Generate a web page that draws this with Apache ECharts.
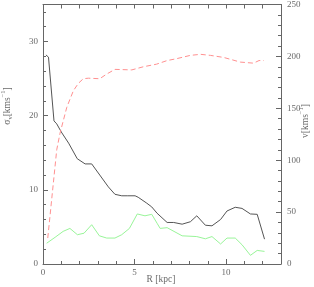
<!DOCTYPE html>
<html><head><meta charset="utf-8">
<script src="https://cdn.jsdelivr.net/npm/echarts@6/dist/echarts.min.js"></script>
<style>html,body{margin:0;padding:0;background:#fff}#c{width:314px;height:287px}</style>
</head><body><div id="c"></div>
<script>
// Stellar velocity dispersion (black), gas dispersion (green), rotation velocity (red dashed)
var rBlack = [0.16,0.3,0.6,0.75,1.0,1.4,1.87,2.3,2.66,3.1,3.57,3.93,4.3,4.6,5.03,5.2,5.67,5.94,6.23,6.78,7.14,7.6,8.05,8.4,8.87,9.23,9.7,10.05,10.5,10.87,11.33,11.7,12.1];
var sigBlack = [28.2,27.9,19.3,18.9,17.8,16.3,14.2,13.5,13.5,12.0,10.4,9.4,9.2,9.2,9.2,9.0,8.2,7.7,6.85,5.6,5.6,5.37,5.7,6.5,5.23,5.15,6.0,7.15,7.65,7.5,6.75,6.7,3.35];
var rGreen = [0.2,0.66,1.1,1.47,1.88,2.24,2.66,3.08,3.48,3.93,4.3,4.72,5.15,5.57,5.94,6.23,6.4,6.78,7.6,8.4,8.87,9.23,9.7,10.05,10.5,10.87,11.33,11.7,12.1];
var sigGreen = [2.8,3.6,4.4,4.8,3.95,4.15,5.3,3.8,3.5,3.5,3.95,4.8,6.75,6.5,6.7,5.5,4.8,4.9,3.8,3.7,3.4,3.7,2.7,3.5,3.5,2.6,1.17,1.83,1.7];
var rRed = [0.26,0.75,0.93,1.3,1.66,1.93,2.2,2.48,3.1,3.48,3.93,4.85,5.48,6.2,6.78,7.3,8.05,8.6,9.14,9.87,10.78,11.5,11.8,12.06];
var vRed = [25,110,126,151,167,174,178.5,179,178.5,183,187.5,187,190,192.5,196,197.8,201,202,201,199,194.5,193.5,196,196];
var xTicks = [0,5,10];
var yLeftTicks = [0,10,20,30];
var yRightTicks = [0,50,100,150,200,250];

function pairs(xs, ys){ return xs.map(function(x,i){ return [x, ys[i]]; }); }
var axCol = '#666';
var txtCol = '#6a6a6a';
var font = 'Liberation Serif';
var lblStyle = {color: txtCol, fontSize: 9, fontFamily: font};

var chart = echarts.init(document.getElementById('c'), null, {renderer:'canvas'});
chart.setOption({
  animation: false,
  backgroundColor: '#fff',
  grid: {left: 43, right: 33, top: 4, bottom: 23},
  xAxis: [
    {type:'value', min:0, max:13, interval:5, position:'bottom', offset:0,
     axisLine:{onZero:false, lineStyle:{color:axCol}}, axisTick:{inside:true, length:5, lineStyle:{color:axCol}},
     axisLabel: Object.assign({margin:4, showMaxLabel:false, formatter:function(v){return xTicks.indexOf(v)>=0? String(v):'';}}, lblStyle),
     splitLine:{show:false}},
    {type:'value', min:0, max:13, interval:1, position:'bottom', offset:0,
     axisLine:{show:false, onZero:false}, axisTick:{inside:true, length:3, lineStyle:{color:axCol}},
     axisLabel:{show:false}, splitLine:{show:false}},
    {type:'value', min:0, max:13, interval:1, position:'top', offset:0,
     axisLine:{onZero:false, lineStyle:{color:axCol}}, axisTick:{inside:true, length:4, lineStyle:{color:axCol}},
     axisLabel:{show:false}, splitLine:{show:false}}
  ],
  yAxis: [
    {type:'value', min:0, max:35, interval:10, position:'left', offset:0,
     axisLine:{show:true, onZero:false, lineStyle:{color:axCol}}, axisTick:{inside:true, length:5, lineStyle:{color:axCol}},
     axisLabel: Object.assign({margin:5, showMaxLabel:false, formatter:function(v){return yLeftTicks.indexOf(v)>=0? String(v):'';}}, lblStyle),
     splitLine:{show:false}},
    {type:'value', min:0, max:250, interval:50, position:'right', offset:0,
     axisLine:{show:true, onZero:false, lineStyle:{color:axCol}}, axisTick:{inside:true, length:5, lineStyle:{color:axCol}},
     minorTick:{show:true, splitNumber:5, length:3, lineStyle:{color:axCol}},
     axisLabel: Object.assign({margin:6, formatter:function(v){return yRightTicks.indexOf(v)>=0? String(v):'';}}, lblStyle),
     splitLine:{show:false}, minorSplitLine:{show:false}},
    {type:'value', min:0, max:35, interval:2, position:'left', offset:0,
     axisLine:{show:false, onZero:false}, axisTick:{inside:true, length:3, lineStyle:{color:axCol}},
     axisLabel:{show:false}, splitLine:{show:false}}
  ],
  graphic: [
    {type:'text', x:7, y:106, rotation:Math.PI/2,
     style:{text:'{a|σ}{s|v}{a|[kms}{p|−1}{a|]}', align:'center', verticalAlign:'middle',
       rich:{a:{fontSize:9.5, fontFamily:font, fill:txtCol, lineHeight:14},
             s:{fontSize:6.5, fontFamily:font, fill:txtCol, verticalAlign:'bottom', padding:[5,0,0,0], lineHeight:14},
             p:{fontSize:6.5, fontFamily:font, fill:txtCol, verticalAlign:'top', padding:[0,0,5,0], lineHeight:14}}}},
    {type:'text', x:305, y:121, rotation:Math.PI/2,
     style:{text:'{a|v[kms}{p|−1}{a|]}', align:'center', verticalAlign:'middle',
       rich:{a:{fontSize:9.5, fontFamily:font, fill:txtCol, lineHeight:14},
             p:{fontSize:6.5, fontFamily:font, fill:txtCol, verticalAlign:'top', padding:[0,0,5,0], lineHeight:14}}}},
    {type:'text', x:161, y:279,
     style:{text:'R [kpc]', align:'center', verticalAlign:'middle', fontSize:9.5, fontFamily:font, fill:txtCol}}
  ],
  series: [
    {type:'line', xAxisIndex:0, yAxisIndex:0, data:pairs(rBlack, sigBlack), symbol:'none',
     lineStyle:{color:'#555', width:1}},
    {type:'line', xAxisIndex:0, yAxisIndex:0, data:pairs(rGreen, sigGreen), symbol:'none',
     lineStyle:{color:'#99f599', width:1}},
    {type:'line', xAxisIndex:0, yAxisIndex:1, data:pairs(rRed, vRed), symbol:'none',
     lineStyle:{color:'#ff9090', width:1, type:[5,3]}}
  ]
});
</script></body></html>
